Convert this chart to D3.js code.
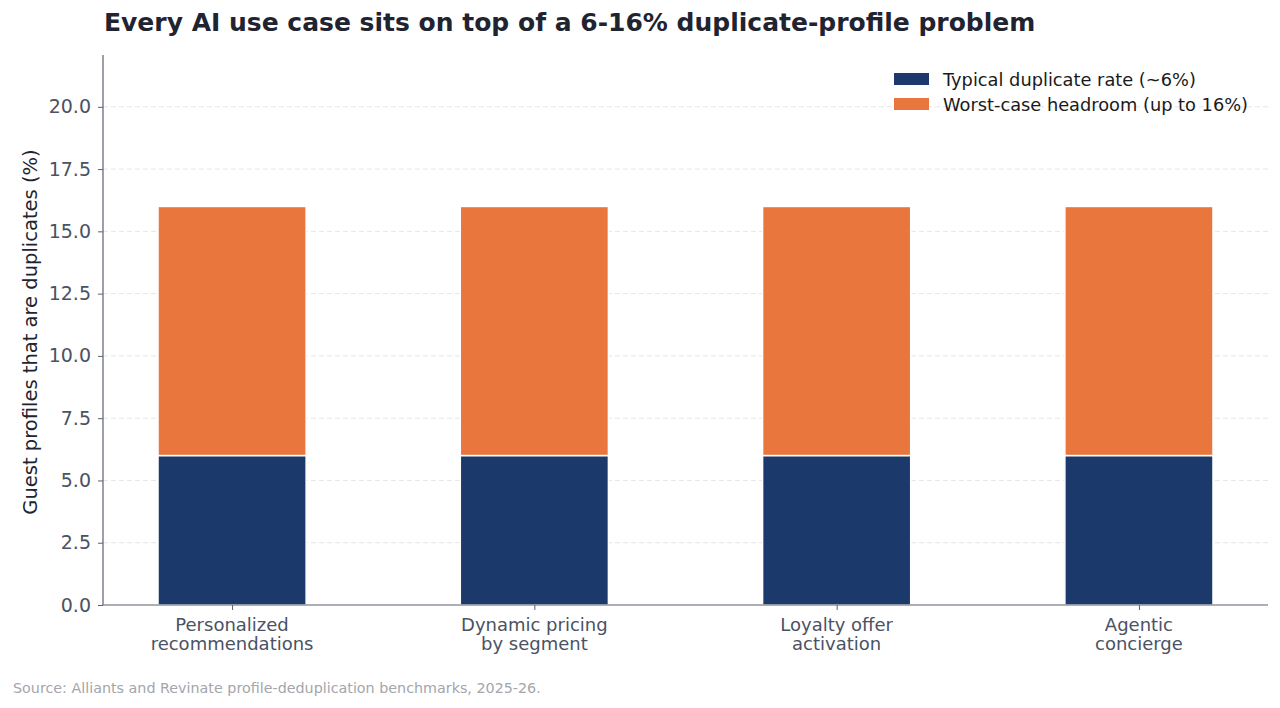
<!DOCTYPE html>
<html><head><meta charset="utf-8">
<script src="https://cdn.jsdelivr.net/npm/d3@7"></script>
<style>body{margin:0;background:#fff;} svg{display:block;font-family:"DejaVu Sans",sans-serif;}</style>
</head><body><svg id="c" width="1280" height="708"></svg>
<script>
const categories = [["Personalized","recommendations"],["Dynamic pricing","by segment"],["Loyalty offer","activation"],["Agentic","concierge"]];
const typical = [6, 6, 6, 6];
const worstCase = [16, 16, 16, 16];
const yTicks = [0, 2.5, 5, 7.5, 10, 12.5, 15, 17.5, 20];
const seriesNames = ["Typical duplicate rate (~6%)", "Worst-case headroom (up to 16%)"];
const colors = ["#1b3a6b", "#e8763d"];

const svg = d3.select("#c");
const L = 103, R = 1268, T = 55, B = 605;
const x = d3.scaleLinear().domain([-0.427, 3.427]).range([L, R]);
const y = d3.scaleLinear().domain([0, 22.08]).range([B, T]);
const bw = x(0.49) - x(0);

// grid
svg.append("g").selectAll("line").data(yTicks.filter(d=>d>0)).join("line")
  .attr("x1", L).attr("x2", R).attr("y1", d=>y(d)).attr("y2", d=>y(d))
  .attr("stroke", "#e3e5e8").attr("stroke-dasharray", "5,3").attr("stroke-width", 1);

// bars
const g = svg.append("g");
categories.forEach((c, i) => {
  g.append("rect").attr("x", x(i)-bw/2).attr("width", bw)
    .attr("y", y(typical[i])).attr("height", y(0)-y(typical[i]))
    .attr("fill", colors[0]).attr("stroke", "#fff").attr("stroke-width", 1.5);
  g.append("rect").attr("x", x(i)-bw/2).attr("width", bw)
    .attr("y", y(worstCase[i])).attr("height", y(typical[i])-y(worstCase[i]))
    .attr("fill", colors[1]).attr("stroke", "#fff").attr("stroke-width", 1.5);
});

// axes
const yAxis = d3.axisLeft(y).tickValues(yTicks).tickFormat(d3.format(".1f")).tickSize(5).tickPadding(7);
const ya = svg.append("g").attr("transform", `translate(${L},0)`).call(yAxis);
ya.select(".domain").attr("stroke", "#5a6070").attr("stroke-width", 1.2).attr("d", `M0,${T}V${B}`);
ya.selectAll(".tick line").attr("stroke", "#5a6070");
ya.selectAll(".tick text").attr("fill", "#4a5263").attr("font-size", 19).attr("font-family", "DejaVu Sans");

const xAxis = d3.axisBottom(x).tickValues([0,1,2,3]).tickFormat("").tickSize(5);
const xa = svg.append("g").attr("transform", `translate(0,${B})`).call(xAxis);
xa.select(".domain").attr("stroke", "#5a6070").attr("stroke-width", 1.2).attr("d", `M${L},0H${R}`);
xa.selectAll(".tick line").attr("stroke", "#5a6070");
categories.forEach((c, i) => {
  const t = svg.append("text").attr("x", x(i)).attr("y", B+26).attr("text-anchor", "middle")
    .attr("fill", "#4a5263").attr("font-size", 18);
  c.forEach((line, j) => t.append("tspan").attr("x", x(i)).attr("dy", j ? 19 : 0).text(line));
});

// y label
svg.append("text").attr("transform", `translate(37,${(T+B)/2+2}) rotate(-90)`).attr("text-anchor", "middle")
  .attr("fill", "#1f2430").attr("font-size", 19.5).text("Guest profiles that are duplicates (%)");

// title
svg.append("text").attr("x", 104).attr("y", 31).attr("font-size", 25).attr("font-weight", "bold")
  .attr("fill", "#1f2430").text("Every AI use case sits on top of a 6-16% duplicate-profile problem");

// legend
seriesNames.forEach((s, i) => {
  svg.append("rect").attr("x", 894).attr("y", 73 + i*25).attr("width", 35).attr("height", 12).attr("fill", colors[i]);
  svg.append("text").attr("x", 943).attr("y", 85.5 + i*25).attr("font-size", 17.8).attr("fill", "#1a1a1a").text(s);
});

// source
svg.append("text").attr("x", 13).attr("y", 693).attr("font-size", 14.3).attr("fill", "#a3a6ab")
  .text("Source: Alliants and Revinate profile-deduplication benchmarks, 2025-26.");
</script></body></html>
